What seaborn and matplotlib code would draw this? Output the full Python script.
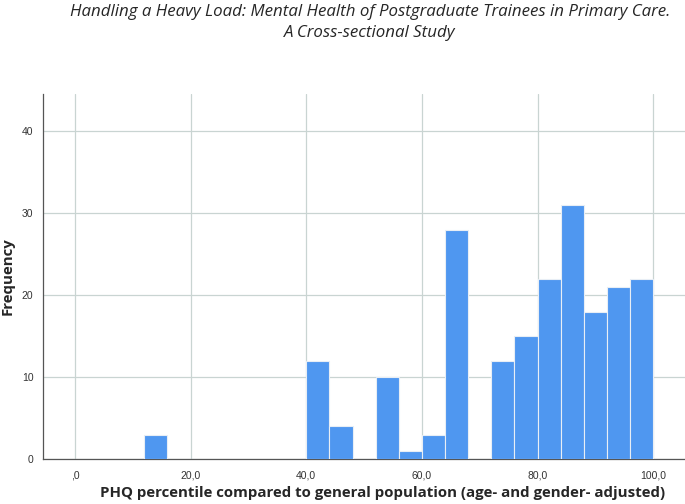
import numpy as np
import seaborn as sns
import matplotlib.pyplot as plt

# histogram bins (width 4) and frequencies
bin_left = [12, 16, 20, 24, 28, 32, 36, 40, 44, 48, 52, 56, 60, 64, 68,
            72, 76, 80, 84, 88, 92, 96]
counts = [3, 0, 0, 0, 0, 0, 0, 12, 4, 0, 10, 1, 3, 28, 0,
          12, 15, 22, 31, 18, 21, 22]
x_ticks = [0, 20, 40, 60, 80, 100]
x_tick_labels = [",0", "20,0", "40,0", "60,0", "80,0", "100,0"]
y_ticks = [0, 10, 20, 30, 40]

sns.set_style("white")
plt.rcParams['font.family'] = ['Open Sans', 'DejaVu Sans']

fig = plt.figure(figsize=(6.85, 5.04), dpi=100)
ax = fig.add_axes([0.063, 0.089, 0.937, 0.724])

edges = bin_left + [bin_left[-1] + 4]
centers = np.array(bin_left) + 2
sns.histplot(x=centers, weights=counts, bins=edges, ax=ax,
             color="#4f97f0", alpha=1, edgecolor="#e8eef5", linewidth=0.8,
             zorder=3)

ax.set_xlim(-5.5, 105.5)
ax.set_ylim(0, 44.5)
ax.set_xticks(x_ticks)
ax.set_xticklabels(x_tick_labels)
ax.set_yticks(y_ticks)
ax.grid(True, color="#c9d4d2", linewidth=0.9, zorder=0)
ax.set_axisbelow(True)
for s in ["top", "right"]:
    ax.spines[s].set_visible(False)
for s in ["left", "bottom"]:
    ax.spines[s].set_color("#555555")
    ax.spines[s].set_linewidth(0.9)
for lab in ax.get_xticklabels() + ax.get_yticklabels():
    lab.set_family(["Liberation Sans", "DejaVu Sans"])
ax.tick_params(axis="y", length=4, color="#555555", labelsize=7.5,
               labelcolor="#333333", pad=3)
ax.tick_params(axis="x", length=0, labelsize=7.5, labelcolor="#333333", pad=8)
ax.set_xlabel("")
ax.set_ylabel("")

fig.text(0.558, 0.022,
         "PHQ percentile compared to general population (age- and gender- adjusted)",
         ha="center", va="center", fontsize=10.8, fontweight="bold")
fig.text(0.011, 0.452, "Frequency", rotation=90,
         ha="center", va="center", fontsize=10.8, fontweight="bold")

fig.text(0.54, 0.976, "Handling a Heavy Load: Mental Health of Postgraduate Trainees in Primary Care.",
         ha="center", va="center", fontsize=12.2, style="italic")
fig.text(0.54, 0.934, "A Cross-sectional Study",
         ha="center", va="center", fontsize=12.2, style="italic")

fig.savefig("out.png", dpi=100)
